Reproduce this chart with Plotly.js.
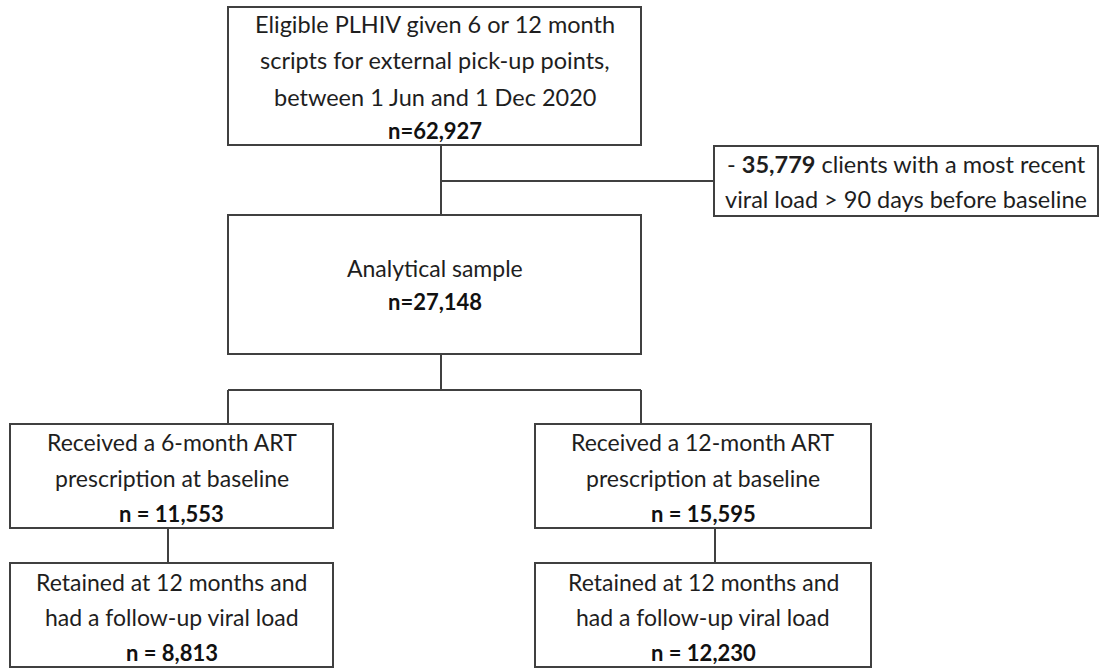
<!DOCTYPE html>
<html>
<head>
<meta charset="utf-8">
<script src="https://cdn.plot.ly/plotly-3.0.1.min.js"></script>
<style>html,body{margin:0;padding:0;background:#fff;}#chart{width:1099px;height:668px;}</style>
</head>
<body>
<div id="chart"></div>
<script>
// ---- data (flowchart content) ----
var boxIds = ["eligible", "analytical", "sixMonth", "twelveMonth", "sixRetained", "twelveRetained"];
var boxLines = [
  ["Eligible PLHIV given 6 or 12 month", "scripts for external pick-up points,", "between 1 Jun and 1 Dec 2020"],
  ["Analytical sample"],
  ["Received a 6-month ART", "prescription at baseline"],
  ["Received a 12-month ART", "prescription at baseline"],
  ["Retained at 12 months and", "had a follow-up viral load"],
  ["Retained at 12 months and", "had a follow-up viral load"]
];
var boxCounts = ["n=62,927", "n=27,148", "n = 11,553", "n = 15,595", "n = 8,813", "n = 12,230"];
var exclusionCount = "35,779";
var exclusionLines = ["clients with a most recent", "viral load > 90 days before baseline"];

// ---- layout geometry (pixels) ----
var boxGeom = [
  {x0: 228, x1: 641, y0: 7,   y1: 145, lineY: [24, 60, 97], nY: 130},
  {x0: 228, x1: 641, y0: 215, y1: 354, lineY: [268], nY: 301},
  {x0: 10,  x1: 333, y0: 424, y1: 528, lineY: [442, 478], nY: 513},
  {x0: 535, x1: 871, y0: 424, y1: 528, lineY: [442, 478], nY: 513},
  {x0: 10,  x1: 333, y0: 563, y1: 667, lineY: [582, 617], nY: 652},
  {x0: 535, x1: 871, y0: 563, y1: 667, lineY: [582, 617], nY: 652}
];
var exclGeom = {x0: 714, x1: 1098, y0: 146, y1: 216, lineY: [164, 199]};
var connectors = [
  [441, 145, 441, 215],
  [441, 181, 714, 181],
  [441, 354, 441, 390],
  [228, 390, 641, 390],
  [228, 390, 228, 424],
  [641, 390, 641, 424],
  [168, 528, 168, 563],
  [715, 528, 715, 563]
];

var LINE = {color: "#404040", width: 2};
var FONT = "Lato, 'Open Sans', sans-serif";
var TXT = "#1e1e1e";
var FS = 23;
var FSB = 22;

var shapes = [];
var annotations = [];

boxGeom.forEach(function (g, i) {
  shapes.push({type: "rect", xref: "x", yref: "y", x0: g.x0, x1: g.x1, y0: g.y0, y1: g.y1,
               line: LINE, fillcolor: "rgba(0,0,0,0)"});
  var cx = (g.x0 + g.x1) / 2;
  boxLines[i].forEach(function (t, j) {
    annotations.push({x: cx, y: g.lineY[j], xref: "x", yref: "y", text: t, showarrow: false,
                      xanchor: "center", yanchor: "middle", font: {family: FONT, size: (i === 0 ? 23.5 : FS), color: TXT}});
  });
  annotations.push({x: cx, y: g.nY, xref: "x", yref: "y", text: "<b>" + boxCounts[i] + "</b>", showarrow: false,
                    xanchor: "center", yanchor: "middle", font: {family: FONT, size: FSB, color: "#111"}});
});

shapes.push({type: "rect", xref: "x", yref: "y", x0: exclGeom.x0, x1: exclGeom.x1, y0: exclGeom.y0, y1: exclGeom.y1,
             line: LINE, fillcolor: "rgba(0,0,0,0)"});
var ecx = (exclGeom.x0 + exclGeom.x1) / 2;
annotations.push({x: ecx, y: exclGeom.lineY[0], xref: "x", yref: "y",
                  text: "- <b>" + exclusionCount + "</b> " + exclusionLines[0], showarrow: false,
                  xanchor: "center", yanchor: "middle", font: {family: FONT, size: 23.5, color: TXT}});
annotations.push({x: ecx, y: exclGeom.lineY[1], xref: "x", yref: "y",
                  text: exclusionLines[1], showarrow: false,
                  xanchor: "center", yanchor: "middle", font: {family: FONT, size: 23.5, color: TXT}});

connectors.forEach(function (c) {
  shapes.push({type: "line", xref: "x", yref: "y", x0: c[0], y0: c[1], x1: c[2], y1: c[3], line: LINE});
});

var layout = {
  width: 1099, height: 668,
  margin: {l: 0, r: 0, t: 0, b: 0},
  paper_bgcolor: "#ffffff", plot_bgcolor: "#ffffff",
  xaxis: {range: [0, 1099], visible: false, fixedrange: true},
  yaxis: {range: [668, 0], visible: false, fixedrange: true},
  showlegend: false,
  shapes: shapes,
  annotations: annotations
};

Plotly.newPlot("chart", [], layout, {displayModeBar: false, staticPlot: true});
</script>
</body>
</html>
